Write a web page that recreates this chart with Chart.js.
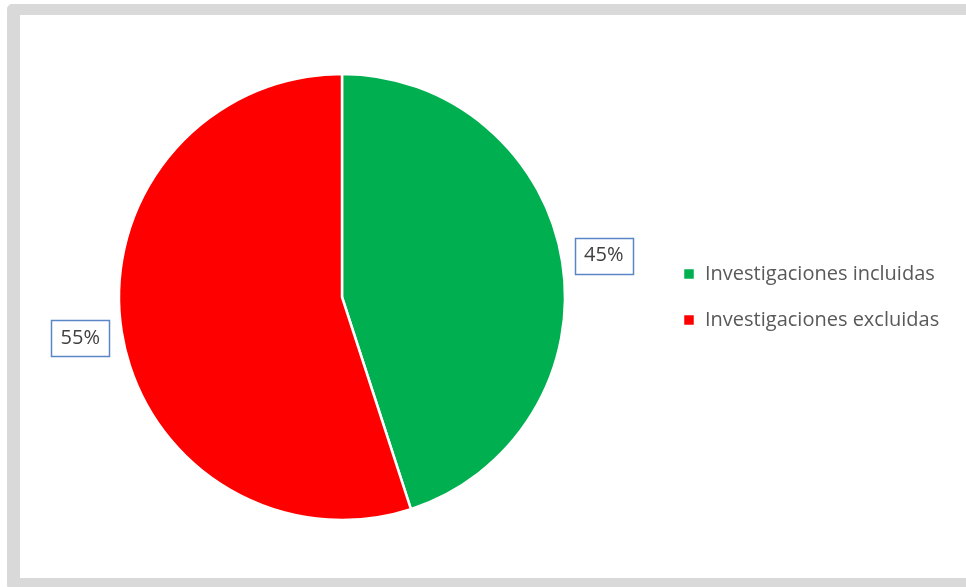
<!DOCTYPE html>
<html>
<head>
<meta charset="utf-8">
<title>Investigaciones</title>
<script src="https://cdn.jsdelivr.net/npm/chart.js"></script>
<style>
  html, body { margin: 0; padding: 0; background: #fff; overflow: hidden; }
  #frame { position: absolute; left: 7px; top: 4px; width: 1100px; height: 563px;
           border-style: solid; border-color: #d9d9d9; border-width: 11px 13px 12px 13px;
           border-radius: 5px; }
  #pie { position: absolute; left: 0; top: 0; }
</style>
</head>
<body>
<div id="frame"></div>
<canvas id="pie" width="966" height="587"></canvas>
<script>
const categories = ['Investigaciones incluidas', 'Investigaciones excluidas'];
const values = [45, 55];
const colors = ['#00b050', '#ff0000'];

const fontFamily = '"Open Sans", sans-serif';
const fontSize = 20;
const legendPad = 26;
const boxW = 12;

// legend width depends on the text, work out padding so the markers land at x=683
const mctx = document.createElement('canvas').getContext('2d');
mctx.font = fontSize + 'px ' + fontFamily;
let textW = 0;
categories.forEach(c => { textW = Math.max(textW, mctx.measureText(c).width); });
const legendLeft = 683 - legendPad;
const legendWidth = legendPad + boxW + fontSize / 2 + textW + 10;
const padLeft = 684 - legendLeft;
const padRight = Math.max(0, 966 - legendLeft - legendWidth);

const pctLabels = {
  id: 'pctLabels',
  afterDatasetsDraw(chart) {
    const ctx = chart.ctx;
    const meta = chart.getDatasetMeta(0);
    const total = values.reduce((a, b) => a + b, 0);
    ctx.save();
    ctx.font = fontSize + 'px ' + fontFamily;
    ctx.textAlign = 'center';
    ctx.textBaseline = 'middle';
    meta.data.forEach((arc, i) => {
      const p = arc.getProps(['x', 'y', 'startAngle', 'endAngle', 'outerRadius'], true);
      const mid = (p.startAngle + p.endAngle) / 2;
      const r = p.outerRadius + 42;
      const cx = p.x + Math.cos(mid) * r;
      const cy = p.y + Math.sin(mid) * r;
      ctx.strokeStyle = '#5a86c6';
      ctx.lineWidth = 1.5;
      ctx.strokeRect(Math.round(cx - 29) + 0.5, Math.round(cy - 18) + 0.5, 58, 36);
      ctx.fillStyle = '#404040';
      ctx.fillText(Math.round(values[i] / total * 100) + '%', cx, cy);
    });
    ctx.restore();
  }
};

new Chart(document.getElementById('pie'), {
  type: 'pie',
  data: {
    labels: categories,
    datasets: [{
      data: values,
      backgroundColor: colors,
      borderColor: '#ffffff',
      borderWidth: 2.5,
      hoverBorderWidth: 2.5,
      radius: 223
    }]
  },
  options: {
    responsive: false,
    animation: false,
    layout: { padding: { left: padLeft, right: padRight, top: 40, bottom: 33 } },
    plugins: {
      tooltip: { enabled: false },
      legend: {
        position: 'right',
        labels: {
          boxWidth: boxW,
          boxHeight: 12,
          padding: legendPad,
          color: '#595959',
          font: { family: fontFamily, size: fontSize }
        }
      }
    }
  },
  plugins: [pctLabels]
});
</script>
</body>
</html>
